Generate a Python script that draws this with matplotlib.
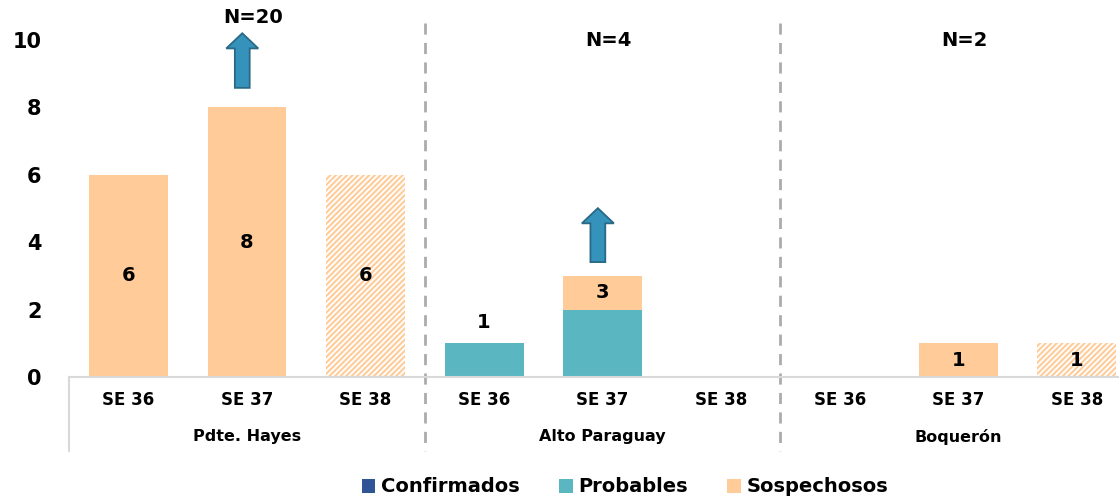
import matplotlib
matplotlib.use("Agg")
import matplotlib.pyplot as plt
import matplotlib.patches as mpatches
import numpy as np

# data
groups = ["Pdte. Hayes", "Alto Paraguay", "Boquerón"]
weeks = ["SE 36", "SE 37", "SE 38"]
confirmados = [0, 0, 0, 0, 0, 0, 0, 0, 0]
probables = [0, 0, 0, 1, 2, 0, 0, 0, 0]
sospechosos = [6, 8, 6, 0, 1, 0, 0, 1, 1]
hatched = [False, False, True, False, False, True, False, False, True]  # SE 38 partial week
group_n = ["N=20", "N=4", "N=2"]
n_label_y = [10.68, 10.0, 10.0]
arrow_idx = [1, 4]
arrow_base = [8.58, 3.41]
arrow_top = [10.2, 5.01]

c_conf = "#2F5597"
c_prob = "#5AB6C0"
c_sosp = "#FFCC99"
c_arrow = "#3592BA"
c_arrow_edge = "#2A6986"
grey = "#D9D9D9"
dash_grey = "#ABABAB"

plt.rcParams["font.family"] = ["DejaVu Sans"]
plt.rcParams["font.weight"] = "bold"
plt.rcParams["hatch.linewidth"] = 1.5

fig = plt.figure(figsize=(11.19, 5.01), dpi=100)
ax = fig.add_axes([69.2 / 1119, 124 / 501, (1136 - 69.2) / 1119, 337 / 501])

x = np.arange(len(sospechosos))
conf = np.array(confirmados)
prob = np.array(probables)
sosp = np.array(sospechosos)
w = 0.666

ax.bar(x, conf, w, color=c_conf, label="Confirmados")
ax.bar(x, prob, w, bottom=conf, color=c_prob, label="Probables")
for i in x:
    if sosp[i] == 0:
        continue
    if hatched[i]:
        ax.bar(i, sosp[i], w, bottom=conf[i] + prob[i], facecolor="white",
               edgecolor=c_sosp, hatch="//////", linewidth=0)
    else:
        ax.bar(i, sosp[i], w, bottom=conf[i] + prob[i], color=c_sosp)
# legend proxy for sospechosos
ax.bar([0], [0], w, color=c_sosp, label="Sospechosos")

# value labels
for i in x:
    total = conf[i] + prob[i] + sosp[i]
    if total == 0:
        continue
    if sosp[i] > 0:
        ypos = conf[i] + prob[i] + sosp[i] / 2
    else:
        ypos = total + 0.63
    ax.text(i, ypos, str(total), ha="center", va="center", fontsize=14,
            fontweight="bold", color="black")

ax.set_xlim(-0.5, len(x) - 0.5)
ax.set_ylim(0, 10)
ax.set_yticks([0, 2, 4, 6, 8, 10])
ax.tick_params(axis="y", length=0, pad=20, labelsize=15)
ax.set_xticks([])
for s in ["left", "right", "top"]:
    ax.spines[s].set_visible(False)
ax.spines["bottom"].set_color(grey)
ax.spines["bottom"].set_linewidth(1.5)

# category labels (two levels)
for i in x:
    ax.text(i, -0.68, weeks[i % 3], ha="center", va="center", fontsize=12,
            fontweight="bold", clip_on=False)
for g, name in enumerate(groups):
    ax.text(3 * g + 1, -1.78, name, ha="center", va="center", fontsize=11.5,
            fontweight="bold", clip_on=False)

# separators
ax.plot([-0.5, -0.5], [0, -2.2], color=grey, lw=1.5, clip_on=False)
for b in [2.5, 5.5]:
    ax.plot([b, b], [10.5, -2.2], color=dash_grey, lw=2, ls=(0, (4, 3)),
            clip_on=False)

# N labels
for g, lab in enumerate(group_n):
    ax.text(3 * g + 1.05, n_label_y[g], lab, ha="center", va="center",
            fontsize=14, fontweight="bold", clip_on=False)

# up arrows
for k, i in enumerate(arrow_idx):
    arr = mpatches.FancyArrow(i - 0.04, arrow_base[k], 0, arrow_top[k] - arrow_base[k],
                              width=0.125, head_width=0.27, head_length=0.45,
                              length_includes_head=True, facecolor=c_arrow,
                              edgecolor=c_arrow_edge, linewidth=1.3, clip_on=False)
    ax.add_patch(arr)

fig.legend(loc="center", bbox_to_anchor=(625 / 1119, 1 - 487 / 501), ncol=3,
           frameon=False, handlelength=0.7, handleheight=0.7,
           handletextpad=0.3, columnspacing=2.0,
           prop={"weight": "bold", "size": 14})

fig.savefig("out.png", dpi=100)
